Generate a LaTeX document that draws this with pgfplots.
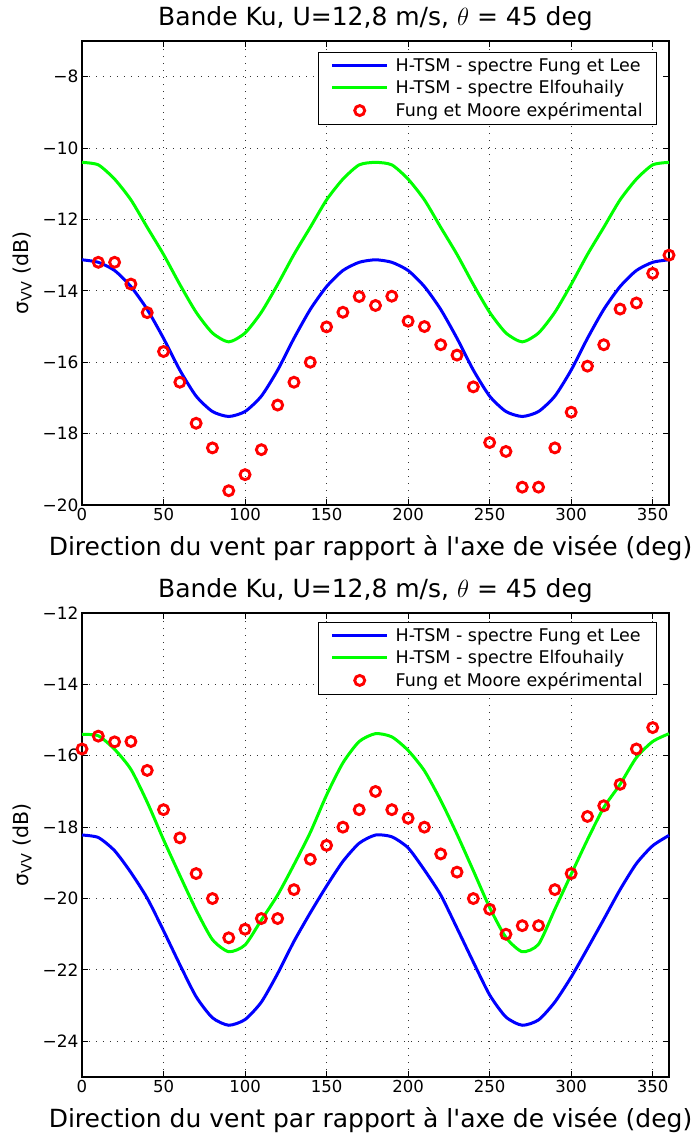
\documentclass[border=0pt]{standalone}
\usepackage{fontspec}
\setmainfont{DejaVu Sans}[Ligatures=TeXOff]
\usepackage{pgfplots}
\pgfplotsset{compat=1.18}
\pgfplotstableread{
d top_fl top_el bot_fl bot_el
0 -13.13 -10.40 -18.22 -15.40
10 -13.20 -10.47 -18.29 -15.44
20 -13.43 -10.87 -18.66 -15.82
30 -13.88 -11.45 -19.27 -16.38
40 -14.52 -12.22 -19.99 -17.30
50 -15.33 -12.98 -20.90 -18.35
60 -16.22 -13.82 -21.85 -19.35
70 -16.95 -14.60 -22.75 -20.32
80 -17.38 -15.18 -23.34 -21.15
90 -17.52 -15.43 -23.55 -21.49
100 -17.38 -15.18 -23.39 -21.30
110 -16.95 -14.60 -22.90 -20.60
120 -16.22 -13.82 -22.10 -19.90
130 -15.33 -12.98 -21.20 -19.05
140 -14.52 -12.22 -20.40 -18.15
150 -13.88 -11.45 -19.65 -17.10
160 -13.43 -10.87 -18.96 -16.20
170 -13.20 -10.47 -18.45 -15.60
180 -13.13 -10.40 -18.22 -15.38
190 -13.20 -10.47 -18.27 -15.47
200 -13.43 -10.87 -18.58 -15.85
210 -13.88 -11.45 -19.20 -16.42
220 -14.52 -12.22 -19.90 -17.25
230 -15.33 -12.98 -20.83 -18.20
240 -16.22 -13.82 -21.78 -19.22
250 -16.95 -14.60 -22.70 -20.25
260 -17.38 -15.18 -23.32 -21.09
270 -17.52 -15.43 -23.55 -21.49
280 -17.38 -15.18 -23.40 -21.28
290 -16.95 -14.60 -22.90 -20.30
300 -16.22 -13.82 -22.20 -19.32
310 -15.33 -12.98 -21.40 -18.35
320 -14.52 -12.22 -20.58 -17.45
330 -13.88 -11.45 -19.75 -16.80
340 -13.43 -10.87 -19.02 -16.05
350 -13.20 -10.47 -18.52 -15.60
360 -13.13 -10.40 -18.23 -15.38
}\curves
\pgfplotstableread{
d v
10 -13.20
20 -13.20
30 -13.81
40 -14.61
50 -15.70
60 -16.56
70 -17.71
80 -18.40
90 -19.60
100 -19.15
110 -18.45
120 -17.20
130 -16.56
140 -16.00
150 -15.01
160 -14.60
170 -14.16
180 -14.41
190 -14.15
200 -14.85
210 -15.00
220 -15.51
230 -15.80
240 -16.69
250 -18.25
260 -18.50
270 -19.50
280 -19.50
290 -18.40
300 -17.40
310 -16.11
320 -15.51
330 -14.51
340 -14.34
350 -13.51
360 -13.00
}\toppts
\pgfplotstableread{
d v
0 -15.81
10 -15.45
20 -15.61
30 -15.60
40 -16.41
50 -17.51
60 -18.30
70 -19.30
80 -20.00
90 -21.10
100 -20.86
110 -20.56
120 -20.56
130 -19.75
140 -18.90
150 -18.51
160 -18.00
170 -17.51
180 -17.00
190 -17.51
200 -17.75
210 -18.00
220 -18.75
230 -19.26
240 -20.00
250 -20.30
260 -21.00
270 -20.76
280 -20.76
290 -19.75
300 -19.30
310 -17.70
320 -17.40
330 -16.80
340 -15.81
350 -15.21
}\botpts
\begin{document}
\begin{tikzpicture}
\useasboundingbox (-82pt,41pt) rectangle (617pt,-1092pt);
\pgfplotsset{
  common/.style={
    scale only axis, width=587pt, height=464pt,
    xmin=0, xmax=360, xtick={0,50,...,350},
    grid=major,
    major grid style={black!80, line width=0.9pt, dash pattern=on 1pt off 6pt},
    tick align=inside, major tick length=6pt,
    axis line style={line width=1.2pt},
    every tick/.style={black, line width=1pt},
    ticklabel style={font=\fontsize{16.5}{19}\selectfont},
    yticklabel style={font=\fontsize{17}{19}\selectfont},
    /pgf/number format/assume math mode=true,
    title style={font=\fontsize{25}{30}\selectfont, at={(axis description cs:0.5,1)}, anchor=base, yshift=10pt},
    title={Bande Ku, U=12,8 m/s, $\theta$ = 45 deg},
    xlabel style={font=\fontsize{25}{30}\selectfont, at={(axis description cs:0.4915,0)}, anchor=base, yshift=-50pt},
    xlabel={Direction du vent par rapport à l'axe de visée (deg)},
    ylabel style={font=\fontsize{20.5}{24}\selectfont, at={(axis description cs:-0.102,0.5)}, anchor=center},
    ylabel={σ\textsubscript{VV} (dB)},
    legend style={font=\fontsize{17.5}{20}\selectfont, draw=black, line width=0.8pt,
      inner xsep=12pt, inner ysep=4pt, row sep=3.5pt, column sep=5pt, nodes={inner sep=2pt},
      anchor=north east},
    legend cell align=left,
    legend image code/.code={\draw[mark repeat=2,mark phase=2,##1] plot coordinates {(0pt,0pt) (27.5pt,0pt) (55pt,0pt)};},
    clip=false,
  },
  fl/.style={blue, line width=3pt, no markers, smooth, tension=0.4},
  el/.style={green, line width=3pt, no markers, smooth, tension=0.4},
  pts/.style={only marks, mark=o, mark size=5pt, mark options={red, line width=2.9pt}},
}
\begin{axis}[common, at={(0pt,0pt)}, anchor=north west,
  ymin=-20, ymax=-7, ytick={-20,-18,...,-8},
  yticklabels={−20,−18,−16,−14,−12,−10,−8},
  legend style={at={(axis description cs:0.9796,0.976)}}]
\addplot[fl] table[x=d,y=top_fl] {\curves};
\addlegendentry{H-TSM - spectre Fung et Lee}
\addplot[el] table[x=d,y=top_el] {\curves};
\addlegendentry{H-TSM - spectre Elfouhaily}
\addplot[pts] table[x=d,y=v] {\toppts};
\addlegendentry{Fung et Moore expérimental}
\end{axis}
\begin{axis}[common, at={(0pt,-572pt)}, anchor=north west,
  ymin=-25, ymax=-12, ytick={-24,-22,...,-12},
  yticklabels={−24,−22,−20,−18,−16,−14,−12},
  legend style={at={(axis description cs:0.9796,0.9806)}}]
\addplot[fl] table[x=d,y=bot_fl] {\curves};
\addlegendentry{H-TSM - spectre Fung et Lee}
\addplot[el] table[x=d,y=bot_el] {\curves};
\addlegendentry{H-TSM - spectre Elfouhaily}
\addplot[pts] table[x=d,y=v] {\botpts};
\addlegendentry{Fung et Moore expérimental}
\end{axis}
\end{tikzpicture}
\end{document}
